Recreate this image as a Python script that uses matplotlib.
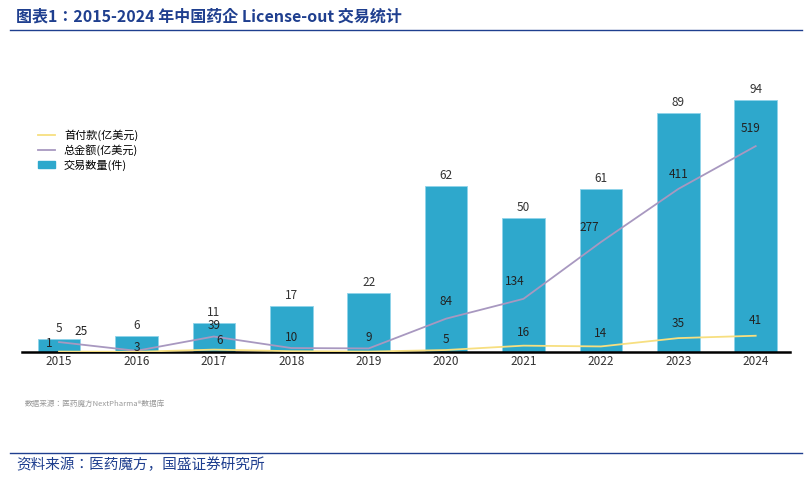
import matplotlib
matplotlib.use("Agg")
import matplotlib.pyplot as plt
from matplotlib import font_manager
from matplotlib.lines import Line2D
from matplotlib.patches import Patch

# find an installed CJK family
cjk = [f.name for f in font_manager.fontManager.ttflist if "CJK" in f.name]
pref = [n for n in cjk if "SC" in n] or cjk
plt.rcParams["font.family"] = "sans-serif"
plt.rcParams["font.sans-serif"] = pref[:1] + ["Noto Sans CJK SC", "DejaVu Sans"]

years = ["2015", "2016", "2017", "2018", "2019", "2020", "2021", "2022", "2023", "2024"]
deals = [5, 6, 11, 17, 22, 62, 50, 61, 89, 94]
total = [25, 3, 39, 10, 9, 84, 134, 277, 411, 519]
upfront = [1, 0.5, 6, 2, 1, 5, 16, 14, 35, 41]
# which upfront labels are shown in the source picture
upfront_shown = [True, False, True, False, False, True, True, True, True, True]

fig = plt.figure(figsize=(8.1, 4.78), dpi=100)
navy = "#1f3f8f"

# title and frame lines
fig.text(0.02, 0.965, "图表1：2015-2024 年中国药企 License-out 交易统计", fontsize=11.5,
         color=navy, style="italic", fontweight="bold", va="center")
fig.add_artist(Line2D([0.012, 0.99], [0.938, 0.938], color=navy, lw=1))
fig.add_artist(Line2D([0.012, 0.99], [0.052, 0.052], color=navy, lw=1))
fig.text(0.02, 0.027, "资料来源：医药魔方，国盛证券研究所", fontsize=10.5, color=navy,
         style="italic", va="center")
fig.text(0.03, 0.15, "数据来源：医药魔方NextPharma®数据库", fontsize=5.5, color="#999999")

ax = fig.add_axes([0.027, 0.2636, 0.948, 0.527])
x = list(range(len(years)))
ax.bar(x, deals, width=0.55, color="#2ea8cc", edgecolor="#8fd3ea", lw=0.6, zorder=2)
ax.set_xlim(-0.48, 9.44)
ax.set_ylim(0, 94)
for xi, v in zip(x, deals):
    ax.text(xi, v + 1.5, str(v), ha="center", va="bottom", fontsize=8.5, color="#333333")

ax2 = ax.twinx()
ax2.set_ylim(0, 635)
ax2.plot(x, total, color="#a898c0", lw=1.3, zorder=3)
ax2.plot(x, upfront, color="#f7df80", lw=1.3, zorder=3)
tot_off = [(16, 3), (0, -2), (0, 3), (0, 3), (0, 3), (0, 8), (-6, 8), (-8, 6), (0, 6), (-4, 8)]
for xi, v, (dx, dy) in zip(x, total, tot_off):
    ax2.annotate(str(v), (xi, v), xytext=(dx, dy), textcoords="offset points",
                 ha="center", va="bottom", fontsize=8.5, color="#222222")
up_off = [(-7, 1), (0, 0), (4, 2), (0, 0), (0, 0), (0, 3), (0, 5), (0, 5), (0, 6), (0, 6)]
for xi, v, s, (dx, dy) in zip(x, upfront, upfront_shown, up_off):
    if s:
        ax2.annotate(str(v), (xi, v), xytext=(dx, dy), textcoords="offset points",
                     ha="center", va="bottom", fontsize=8.5, color="#222222")

for a in (ax, ax2):
    for sp in ["top", "right", "left"]:
        a.spines[sp].set_visible(False)
    a.set_yticks([])
ax.spines["bottom"].set_linewidth(1.8)
ax2.spines["bottom"].set_visible(False)
ax.set_xticks(x)
ax.set_xticklabels(years, fontsize=8.5, color="#333333")
ax.tick_params(axis="x", length=0, pad=2)

handles = [Line2D([], [], color="#f7df80", lw=1.3), Line2D([], [], color="#a898c0", lw=1.3),
           Patch(color="#2ea8cc")]
fig.legend(handles, ["首付款(亿美元)", "总金额(亿美元)", "交易数量(件)"], loc="upper left",
           bbox_to_anchor=(0.035, 0.75), frameon=False, fontsize=8, handlelength=1.5,
           labelspacing=0.3)

fig.savefig("out.png", dpi=100)
